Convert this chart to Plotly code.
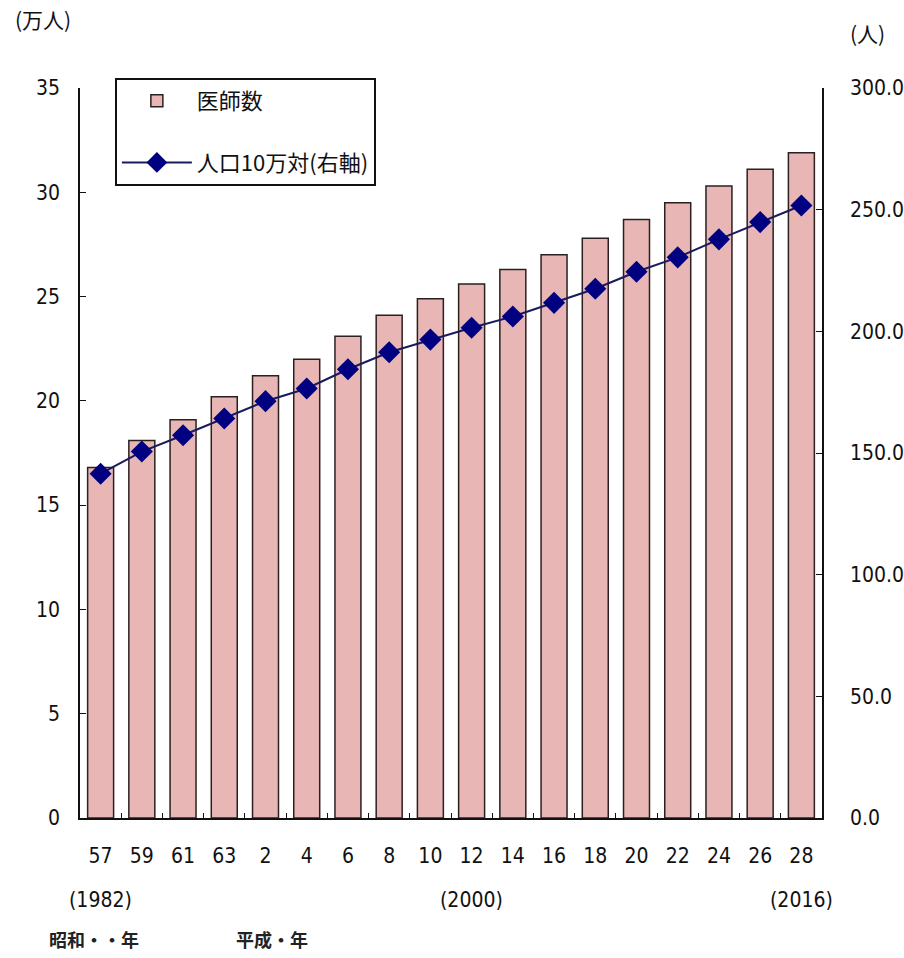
import plotly.graph_objects as go

categories = ["57", "59", "61", "63", "2", "4", "6", "8", "10", "12", "14", "16", "18", "20", "22", "24", "26", "28"]
doctors_10k = [16.8, 18.1, 19.1, 20.2, 21.2, 22.0, 23.1, 24.1, 24.9, 25.6, 26.3, 27.0, 27.8, 28.7, 29.5, 30.3, 31.1, 31.9]
per_100k = [141.5, 150.6, 157.3, 164.2, 171.3, 176.5, 184.4, 191.4, 196.6, 201.5, 206.1, 211.7, 217.5, 224.5, 230.4, 237.8, 244.9, 251.7]
year_notes = {"57": "(1982)", "12": "(2000)", "28": "(2016)"}

NUM_FONT = "Liberation Sans Narrow, Arial Narrow, DejaVu Sans Condensed, Liberation Sans, sans-serif"
CJK_FONT = "Noto Sans CJK JP, Noto Sans CJK SC, sans-serif"

fig = go.Figure()
fig.add_trace(go.Bar(
    x=categories, y=doctors_10k, name="医師数",
    marker=dict(color="#E8B7B5", line=dict(color="#2b2020", width=1.5)),
    yaxis="y", legendgroup="a",
))
fig.add_trace(go.Scatter(
    x=categories, y=per_100k, name="人口10万対(右軸)", mode="lines+markers",
    line=dict(color="#1a1a5e", width=2),
    marker=dict(symbol="diamond", size=17, color="#000080"),
    yaxis="y2", legendgroup="b",
))

annotations = []
for c, t in year_notes.items():
    annotations.append(dict(x=categories.index(c), xref="x", y=-0.112, yref="paper", text=t, showarrow=False,
                            font=dict(family=NUM_FONT, size=21, color="#111"), yanchor="middle"))
annotations += [
    dict(x=-0.09, y=1.094, xref="paper", yref="paper", text="(万人)", showarrow=False,
         xanchor="left", yanchor="middle", font=dict(family=CJK_FONT, size=21, color="#111")),
    dict(x=1.035, y=1.076, xref="paper", yref="paper", text="(人)", showarrow=False,
         xanchor="left", yanchor="middle", font=dict(family=CJK_FONT, size=21, color="#111")),
    dict(x=-0.045, y=-0.166, xref="paper", yref="paper", text="<b>昭和・・年</b>", showarrow=False,
         xanchor="left", yanchor="middle", font=dict(family=CJK_FONT, size=18, color="#222")),
    dict(x=0.208, y=-0.166, xref="paper", yref="paper", text="<b>平成・年</b>", showarrow=False,
         xanchor="left", yanchor="middle", font=dict(family=CJK_FONT, size=18, color="#222")),
]

fig.update_layout(
    width=904, height=958,
    margin=dict(l=80, r=82, t=88, b=140),
    paper_bgcolor="white", plot_bgcolor="white",
    bargap=0.37,
    showlegend=True,
    legend=dict(x=0.047, y=1.0137, xanchor="left", yanchor="top",
                bgcolor="white", bordercolor="#111", borderwidth=2,
                font=dict(family=CJK_FONT, size=22, color="#111"),
                traceorder="grouped", tracegroupgap=30, itemwidth=70),
    xaxis=dict(type="category", categoryorder="array", categoryarray=categories,
               range=[-0.5, len(categories) - 0.5], automargin=False,
               showline=True, linecolor="#111", linewidth=1.5,
               ticks="inside", tickson="boundaries", ticklen=5, tickcolor="#111",
               tickangle=0,
               tickfont=dict(family=NUM_FONT, size=21, color="#111"),
               ticklabelstandoff=18, showgrid=False, zeroline=False),
    yaxis=dict(range=[0, 35], dtick=5, showline=True, linecolor="#111", linewidth=1.5, automargin=False,
               ticks="inside", ticklen=6, tickcolor="#111", showgrid=False, zeroline=False,
               tickfont=dict(family=NUM_FONT, size=21, color="#111"), ticklabelstandoff=14),
    yaxis2=dict(range=[0, 300], dtick=50, tickformat=".1f", overlaying="y", side="right",
                showline=True, linecolor="#111", linewidth=1.5, automargin=False,
                ticks="inside", ticklen=6, tickcolor="#111", showgrid=False, zeroline=False,
                tickfont=dict(family=NUM_FONT, size=21, color="#111"), ticklabelstandoff=22),
    annotations=annotations,
)

fig.write_html("out.html")
